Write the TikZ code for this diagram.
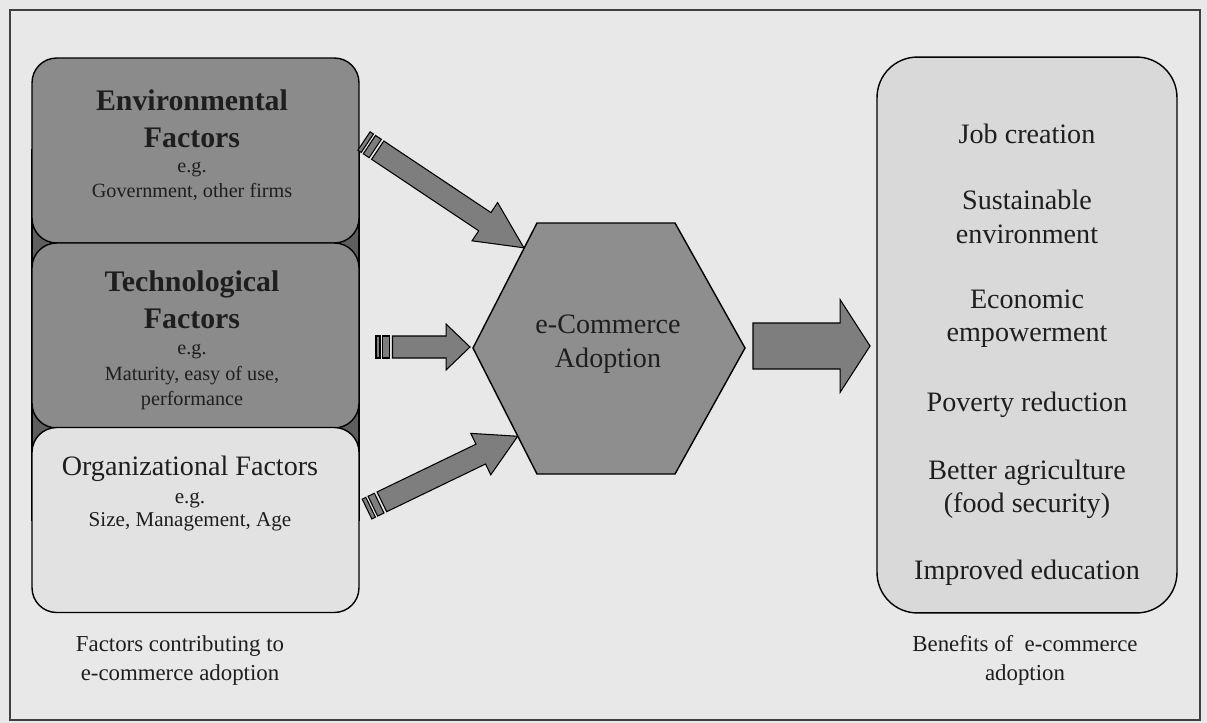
\documentclass[tikz,border=0pt]{standalone}
\usepackage{fontspec}
\setmainfont{Liberation Serif}
\usetikzlibrary{calc}

\definecolor{pagegray}{HTML}{E8E8E8}
\definecolor{boxdark}{HTML}{8B8B8B}
\definecolor{boxlight}{HTML}{E2E2E2}
\definecolor{wedgegray}{HTML}{5E5E5E}
\definecolor{hexgray}{HTML}{8E8E8E}
\definecolor{arrowgray}{HTML}{7E7E7E}
\definecolor{benefitgray}{HTML}{D9D9D9}
\definecolor{inkgray}{HTML}{1E1E1E}

% angle and length (in px units) from #1 to #2
\newcommand{\arrowframe}[2]{%
  \pgfmathanglebetweenpoints{\pgfpointanchor{#1}{center}}{\pgfpointanchor{#2}{center}}%
  \let\arrang\pgfmathresult
  \pgfpointdiff{\pgfpointanchor{#1}{center}}{\pgfpointanchor{#2}{center}}%
  \pgfgetlastxy{\arrdx}{\arrdy}%
  \pgfmathsetmacro{\arrlen}{veclen(\arrdx,\arrdy)/0.569055}}

% tail, tip, half body, half head, head length, body start
\newcommand{\blockarrow}[6]{%
  \arrowframe{#1}{#2}%
  \begin{scope}[shift={(#1)},rotate=\arrang]
    \draw[fatarrow] (#6,-#3) -- (\arrlen-#5,-#3) -- (\arrlen-#5,-#4) -- (\arrlen,0)
      -- (\arrlen-#5,#4) -- (\arrlen-#5,#3) -- (#6,#3) -- cycle;
  \end{scope}}

% tail, tip, head length
\newcommand{\stripedarrow}[3]{%
  \blockarrow{#1}{#2}{11}{23}{#3}{16.5}%
  \begin{scope}[shift={(#1)},rotate=\arrang]
    \draw[fatarrow] (0,-11) -- (4,-11) -- (4,11) -- (0,11) -- cycle;
    \draw[fatarrow] (6.5,-11) -- (13.5,-11) -- (13.5,11) -- (6.5,11) -- cycle;
  \end{scope}}

\begin{document}
\begin{tikzpicture}[x=0.02cm, y=-0.02cm,
	factorbox/.style={draw=black, line width=0.8pt, rounded corners=14pt,
		minimum width=6.54cm, minimum height=3.7cm, inner sep=0pt},
	fatarrow/.style={draw=black, line width=0.6pt, fill=arrowgray, line join=miter},
	titlebold/.style={font=\fontsize{17}{21}\selectfont\bfseries, align=center, text=inkgray},
	titleplain/.style={font=\fontsize{16}{19}\selectfont, align=center, text=inkgray},
	example/.style={font=\fontsize{11.5}{14.3}\selectfont, align=center, text=inkgray},
	benefit/.style={font=\fontsize{16}{19}\selectfont, align=center, text=inkgray},
	caption/.style={font=\fontsize{13}{16.5}\selectfont, align=center, text=inkgray}]
		%page and frame
		\fill[pagegray] (0,0) rectangle (1207,723);
		\draw[line width=0.8pt, black!75] (10,10) rectangle (1200,720);
		
		%factor boxes
		\draw[fill=wedgegray, line width=0.8pt] (32,150) rectangle (359,520);
		\node[factorbox, fill=boxdark] (env) at (195.5,150.5) {};
		\node[factorbox, fill=boxdark] (tech) at (195.5,335.5) {};
		\node[factorbox, fill=boxlight] (org) at (195.5,520) {};
		
		\node[titlebold] (envtitle) at (192,118.5) {Environmental\\Factors};
		\node[example] (enveg) at (192,181) {e.g.\\Government, other firms};
		\node[titlebold] (techtitle) at (192,300) {Technological\\Factors};
		\node[example] (techeg) at (192,377) {e.g.\\Maturity, easy of use,\\performance};
		\node[titleplain] (orgtitle) at (190,469) {Organizational Factors};
		\node[example, font=\fontsize{12}{13}\selectfont] (orgeg) at (190,512) {e.g.\\Size, Management, Age};
		\node[caption] (factcap) at (180,660.5) {Factors contributing to\\e-commerce adoption};
		
		%hexagon
		\coordinate (hexL) at (473,348);
		\coordinate (hexTL) at (537,223);
		\coordinate (hexTR) at (675,223);
		\coordinate (hexR) at (745,348);
		\coordinate (hexBR) at (675,474);
		\coordinate (hexBL) at (537,474);
		\draw[fill=hexgray, line width=0.8pt] (hexL) -- (hexTL) -- (hexTR) -- (hexR) -- (hexBR) -- (hexBL) -- cycle;
		\node[titleplain] (ecom) at (608,344) {e-Commerce\\Adoption};
		
		%benefits
		\node[draw=black, line width=0.8pt, rounded corners=23pt, fill=benefitgray,
			minimum width=6cm, minimum height=11.12cm] (benefits) at (1027,335) {};
		\foreach \y/\txt [count=\i] in {134/{Job creation}, 217/{Sustainable\\environment},
			318.5/{Economic\\empowerment}, 405/{Poverty reduction},
			489.5/{Better agriculture\\(food security)}, 573/{Improved education}}{
			\node[benefit] (ben\i) at (1027,\y) {\txt};
		}
		\node[caption] (bencap) at (1025,660.5) {Benefits of\ \ e-commerce\\adoption};
		
		%arrows
		\coordinate (envtail) at (364,141);
		\coordinate (envtip) at ($(hexL)!0.8!(hexTL)$);
		\coordinate (techtail) at (376,347);
		\coordinate (techtip) at (470,347);
		\coordinate (orgtail) at (367,509);
		\coordinate (orgtip) at ($(hexL)!0.7!(hexBL)$);
		\coordinate (bigtail) at (753,346);
		\coordinate (bigtip) at (870,346);
		\stripedarrow{envtail}{envtip}{47}
		\stripedarrow{techtail}{techtip}{24}
		\stripedarrow{orgtail}{orgtip}{41}
		\blockarrow{bigtail}{bigtip}{23}{46.5}{30}{0}
\end{tikzpicture}
\end{document}
